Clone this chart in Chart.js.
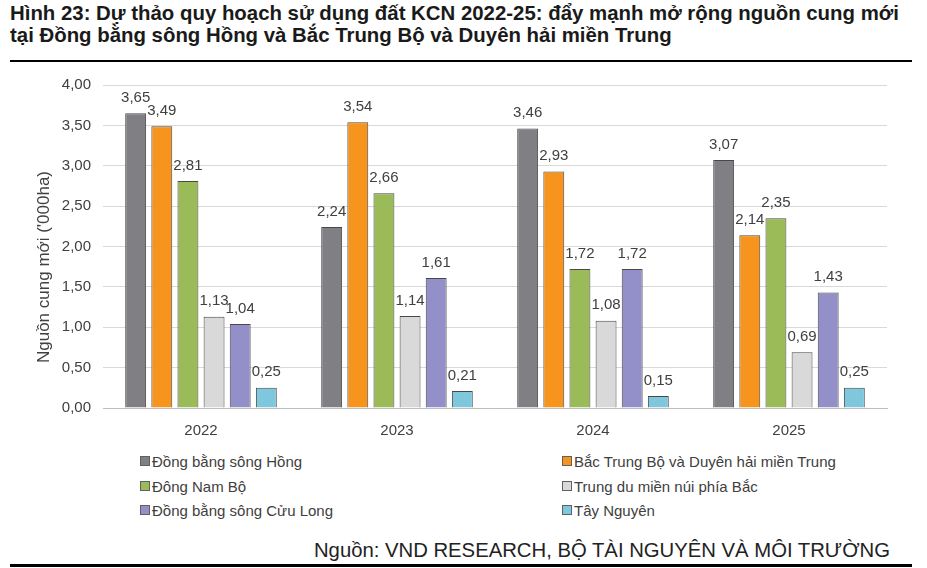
<!DOCTYPE html>
<html><head><meta charset="utf-8">
<script src="https://cdn.jsdelivr.net/npm/chart.js@4/dist/chart.umd.min.js"></script>
<style>
html,body{margin:0;padding:0;background:#fff;width:927px;height:568px;overflow:hidden;font-family:"Liberation Sans",Arial,sans-serif;}
#title{position:absolute;left:10px;top:2px;font-weight:bold;font-size:20.4px;line-height:22px;color:#1a1a1a;white-space:nowrap;}
#rule1{position:absolute;left:10px;top:60px;width:902px;height:2px;background:#000;}
#rule2{position:absolute;left:10px;top:564px;width:902px;height:3px;background:#000;}
#wrap{position:absolute;left:0;top:64px;width:927px;height:381px;}
#legend{position:absolute;left:140px;top:450px;width:760px;}
.li{position:absolute;font-size:15px;color:#404040;white-space:nowrap;line-height:18px;}
.sw{display:inline-block;width:8px;height:8px;border:1px solid #606060;margin-right:2px;vertical-align:1px;}
#src{position:absolute;right:37px;top:539px;font-size:20.3px;color:#222;white-space:nowrap;}
</style></head>
<body>
<div id="title">Hình 23: Dự thảo quy hoạch sử dụng đất KCN 2022-25: đẩy mạnh mở rộng nguồn cung mới<br>tại Đồng bằng sông Hồng và Bắc Trung Bộ và Duyên hải miền Trung</div>
<div id="rule1"></div>
<div id="wrap"><canvas id="c" width="927" height="381"></canvas></div>
<div id="legend"></div>
<div id="src">Nguồn: VND RESEARCH, BỘ TÀI NGUYÊN VÀ MÔI TRƯỜNG</div>
<div id="rule2"></div>
<script>
const categories = ["2022", "2023", "2024", "2025"];
const seriesNames = ["Đồng bằng sông Hồng", "Bắc Trung Bộ và Duyên hải miền Trung", "Đông Nam Bộ", "Trung du miền núi phía Bắc", "Đồng bằng sông Cửu Long", "Tây Nguyên"];
const dongBangSongHong = [3.65, 2.24, 3.46, 3.07];
const bacTrungBo = [3.49, 3.54, 2.93, 2.14];
const dongNamBo = [2.81, 2.66, 1.72, 2.35];
const trungDu = [1.13, 1.14, 1.08, 0.69];
const songCuuLong = [1.04, 1.61, 1.72, 1.43];
const tayNguyen = [0.25, 0.21, 0.15, 0.25];
const yTicks = [0, 0.5, 1, 1.5, 2, 2.5, 3, 3.5, 4];
const colors = ["#7f7f84", "#f7941d", "#9bbb59", "#d9d9d9", "#9390c9", "#7fc7dc"];
const yTitle = "Nguồn cung mới ('000ha)";

const seriesValues = [dongBangSongHong, bacTrungBo, dongNamBo, trungDu, songCuuLong, tayNguyen];
const fmt = v => v.toFixed(2).replace('.', ',');
const FONT = '"Liberation Sans", Arial, sans-serif';

const labelPlugin = {
  id: 'barLabels',
  afterDatasetsDraw(chart) {
    const ctx = chart.ctx;
    ctx.save();
    ctx.font = '15px ' + FONT;
    ctx.fillStyle = '#404040';
    ctx.textAlign = 'center';
    ctx.textBaseline = 'bottom';
    chart.data.datasets.forEach((ds, i) => {
      chart.getDatasetMeta(i).data.forEach((bar, j) => {
        ctx.fillText(fmt(ds.data[j]), bar.x, bar.y - 8);
      });
    });
    // y axis title, placed beside the axis like the reference
    ctx.translate(44, 267 - 64);
    ctx.rotate(-Math.PI / 2);
    ctx.font = '17px ' + FONT;
    ctx.textBaseline = 'middle';
    ctx.fillText(yTitle, 0, 0);
    ctx.restore();
  }
};

new Chart(document.getElementById('c'), {
  type: 'bar',
  data: {
    labels: categories,
    datasets: seriesNames.map((n, i) => ({
      label: n,
      data: seriesValues[i],
      backgroundColor: colors[i],
      borderColor: '#484848',
      borderWidth: 1,
      categoryPercentage: 0.8,
      barPercentage: 0.8
    }))
  },
  options: {
    responsive: false,
    animation: false,
    layout: { padding: { left: 0, right: 40, top: 8, bottom: 0 } },
    plugins: { legend: { display: false }, tooltip: { enabled: false } },
    scales: {
      x: {
        grid: { display: false },
        border: { color: '#bfbfbf' },
        ticks: { color: '#404040', font: { size: 15, family: FONT }, padding: 6 },
        afterFit(s) { s.height = 37; }
      },
      y: {
        min: 0, max: 4,
        afterBuildTicks(s) { s.ticks = yTicks.map(v => ({ value: v })); },
        grid: { color: '#d9d9d9', drawTicks: false },
        border: { display: false },
        ticks: { color: '#404040', font: { size: 15, family: FONT }, padding: 12, callback: v => fmt(v) },
        title: { display: false },
        afterFit(s) { s.width = 103; }
      }
    }
  },
  plugins: [labelPlugin]
});

const leg = document.getElementById('legend');
seriesNames.forEach((n, i) => {
  const d = document.createElement('div');
  d.className = 'li';
  d.style.left = (i % 2 === 0 ? 0 : 422) + 'px';
  d.style.top = (Math.floor(i / 2) * 24.5 + 3) + 'px';
  d.innerHTML = '<span class="sw" style="background:' + colors[i] + '"></span>' + n;
  leg.appendChild(d);
});
</script>
</body></html>
